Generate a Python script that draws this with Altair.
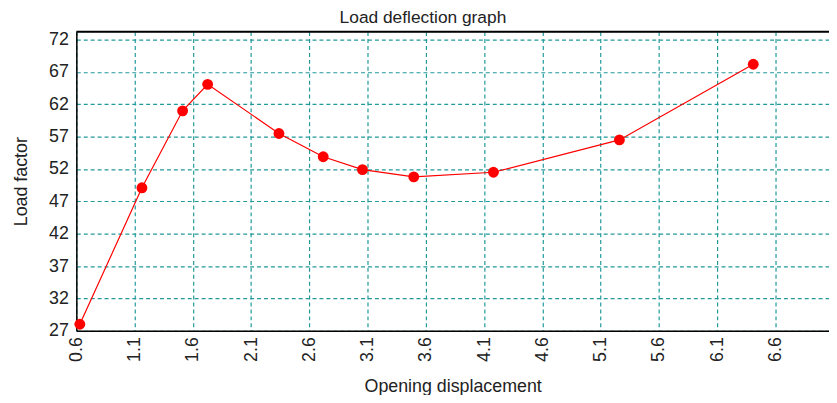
import altair as alt
import pandas as pd

displacement = [0.63, 1.163, 1.512, 1.727, 2.339, 2.719, 3.056, 3.496, 4.18, 5.261, 6.41]
load_factor = [28.0, 49.1, 61.0, 65.1, 57.5, 53.9, 51.9, 50.8, 51.5, 56.5, 68.2]
x_ticks = [0.6, 1.1, 1.6, 2.1, 2.6, 3.1, 3.6, 4.1, 4.6, 5.1, 5.6, 6.1, 6.6]
y_ticks = [27, 32, 37, 42, 47, 52, 57, 62, 67, 72]

df = pd.DataFrame({"x": displacement, "y": load_factor})

FONT = "Liberation Sans"
GRID = "#22999a"
FS = 18

xscale = alt.Scale(domain=[0.6, 7.06], nice=False, zero=False)
yscale = alt.Scale(domain=[27, 73.24], nice=False, zero=False)

xaxis = alt.Axis(
    values=x_ticks, format=".1f", labelAngle=-90, labelAlign="right", labelBaseline="middle",
    labelPadding=6, ticks=False, grid=True, gridColor=GRID, gridDash=[4, 3], gridWidth=1.2,
    domainColor="black", domainWidth=1.5, labelFontSize=FS, labelFont=FONT, labelColor="#222",
    title="Opening displacement", titleFont=FONT, titleFontSize=FS, titleFontWeight="normal",
    titleColor="#222", titlePadding=16, labelFlush=False, labelOverlap=False,
)
yaxis = alt.Axis(
    values=y_ticks, format="d", ticks=False, labelPadding=8, grid=True, gridColor=GRID,
    gridDash=[4, 3], gridWidth=1.2, domainColor="black", domainWidth=1.5, labelFontSize=FS,
    labelFont=FONT, labelColor="#222", title="Load factor", titleFont=FONT, titleFontSize=FS,
    titleFontWeight="normal", titleColor="#222", titlePadding=18, labelFlush=False,
    labelOverlap=False,
)

base = alt.Chart(df).encode(
    x=alt.X("x:Q", scale=xscale, axis=xaxis),
    y=alt.Y("y:Q", scale=yscale, axis=yaxis),
)
line = base.mark_line(color="#ff0000", strokeWidth=1.2)
points = base.mark_circle(color="#ff0000", opacity=1, size=120)
topline = alt.Chart(pd.DataFrame({"a": [0]})).mark_rule(color="black", strokeWidth=2).encode(
    x=alt.value(0), x2=alt.value(760), y=alt.value(0)
)

chart = alt.layer(line, points, topline).properties(
    width=760,
    height=302,
    autosize=alt.AutoSizeParams(type="none"),
    padding={"left": 69, "top": 22, "right": 0, "bottom": 63},
    title=alt.TitleParams("Load deflection graph", font=FONT, fontSize=17.5, fontWeight="normal",
                          color="#222", offset=4, dx=-30, anchor="middle"),
).configure_view(strokeWidth=0).configure(background="white")

chart.save("out.html", embed_options={"renderer": "svg", "actions": False})
